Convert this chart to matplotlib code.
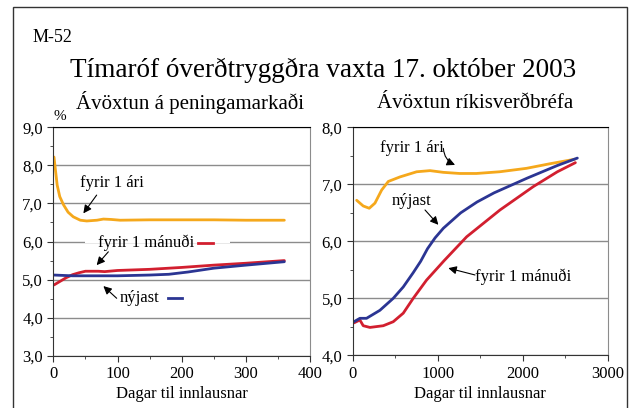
from matplotlib import pyplot as plt
from matplotlib import ticker
from matplotlib.patches import Rectangle

# Peningamarkaður (dagar til innlausnar, ávöxtun %)
mm_ari_x = [1, 3, 6, 10, 16, 23, 31, 42, 52, 60, 68, 78, 90, 104, 150, 194, 250, 300, 360]
mm_ari_y = [8.22, 7.92, 7.48, 7.18, 6.96, 6.77, 6.65, 6.56, 6.54, 6.55, 6.56, 6.59, 6.58, 6.56, 6.57, 6.57, 6.57, 6.56, 6.56]
mm_man_x = [1, 10, 20, 30, 40, 50, 70, 80, 100, 150, 200, 250, 300, 360]
mm_man_y = [4.86, 4.95, 5.05, 5.13, 5.18, 5.22, 5.22, 5.21, 5.24, 5.27, 5.32, 5.38, 5.43, 5.5]
mm_nyj_x = [1, 30, 60, 100, 150, 180, 210, 250, 300, 360]
mm_nyj_y = [5.12, 5.1, 5.1, 5.1, 5.12, 5.14, 5.2, 5.3, 5.38, 5.47]

# Ríkisverðbréf
rv_ari_x = [47, 124, 195, 262, 341, 419, 557, 753, 910, 1065, 1259, 1455, 1729, 2043, 2318, 2612]
rv_ari_y = [6.72, 6.62, 6.58, 6.67, 6.90, 7.05, 7.13, 7.22, 7.24, 7.21, 7.19, 7.19, 7.22, 7.28, 7.36, 7.44]
rv_nyj_x = [15, 85, 163, 320, 477, 595, 712, 800, 880, 969, 1067, 1271, 1463, 1663, 2055, 2408, 2643]
rv_nyj_y = [4.59, 4.65, 4.65, 4.79, 5.0, 5.2, 5.45, 5.65, 5.87, 6.06, 6.23, 6.5, 6.69, 6.85, 7.11, 7.33, 7.46]
rv_man_x = [15, 85, 124, 203, 360, 477, 595, 712, 869, 1075, 1341, 1733, 2125, 2408, 2620]
rv_man_y = [4.57, 4.62, 4.52, 4.49, 4.52, 4.59, 4.74, 5.0, 5.32, 5.66, 6.08, 6.55, 6.96, 7.22, 7.38]

YELLOW = "#f5a81c"
RED = "#d21f2f"
BLUE = "#2b3593"
GRID = "#8c8c8c"

plt.rcParams['font.family'] = ['Liberation Serif', 'DejaVu Serif']

fig = plt.figure(figsize=(6.35, 4.08), dpi=100)

# ramminn utan um myndina
fig.patches.append(Rectangle((13 / 635, -0.1), 614 / 635, 1.1 - 7 / 408, transform=fig.transFigure,
                             fill=False, edgecolor="#333333", linewidth=1.0))

fig.text(33 / 635, 1 - 37 / 408, "M-52", fontsize=13, va="center", ha="left")
fig.text(323 / 635, 1 - 70 / 408, "Tímaróf óverðtryggðra vaxta 17. október 2003", fontsize=19.5, va="center", ha="center")
fig.text(190 / 635, 1 - 103 / 408, "Ávöxtun á peningamarkaði", fontsize=15, va="center", ha="center")
fig.text(475 / 635, 1 - 103 / 408, "Ávöxtun ríkisverðbréfa", fontsize=15, va="center", ha="center")
fig.text(60 / 635, 1 - 116 / 408, "%", fontsize=11, va="center", ha="center")

ax1 = fig.add_axes([0.0840, 0.128, 0.4042, 0.560])
ax2 = fig.add_axes([0.5554, 0.129, 0.4016, 0.559])


def style_axis(ax, xmax, xmajor, xminor, ymin, ymax):
    ax.set_xlim(0, xmax)
    ax.set_ylim(ymin, ymax)
    ax.xaxis.set_major_locator(ticker.MultipleLocator(xmajor))
    ax.xaxis.set_minor_locator(ticker.MultipleLocator(xminor))
    ax.yaxis.set_major_locator(ticker.MultipleLocator(1))
    ax.yaxis.set_minor_locator(ticker.MultipleLocator(0.5))
    ax.yaxis.set_major_formatter(ticker.FuncFormatter(lambda v, p: f"{v:.1f}".replace(".", ",")))
    ax.xaxis.set_major_formatter(ticker.FuncFormatter(lambda v, p: f"{v:.0f}"))
    ax.tick_params(which="both", direction="out", labelsize=12, color="#333333")
    ax.tick_params(which="major", length=4)
    ax.tick_params(which="minor", length=2.5)
    ax.grid(axis="y", which="major", color=GRID, linewidth=1.0)
    ax.spines["right"].set_color(GRID)
    ax.spines["top"].set_color("black")
    ax.spines["left"].set_color("#333333")
    ax.spines["bottom"].set_color("#333333")
    ax.set_xlabel("Dagar til innlausnar", fontsize=12, labelpad=3)
    ax.set_axisbelow(True)


style_axis(ax1, 400, 100, 50, 3, 9)
style_axis(ax2, 3000, 1000, 500, 4, 8)

lw = 2.0
line_kw = dict(linewidth=lw, solid_joinstyle="round", solid_capstyle="round")
ax1.plot(mm_ari_x, mm_ari_y, color=YELLOW, **line_kw)
ax1.plot(mm_man_x, mm_man_y, color=RED, **line_kw)
ax1.plot(mm_nyj_x, mm_nyj_y, color=BLUE, **line_kw)

ax2.plot(rv_ari_x, rv_ari_y, color=YELLOW, **line_kw)
ax2.plot(rv_man_x, rv_man_y, color=RED, **line_kw)
ax2.plot(rv_nyj_x, rv_nyj_y, color=BLUE, **line_kw)

arrow = dict(arrowstyle="-|>", color="black", linewidth=0.8, mutation_scale=12, shrinkA=0, shrinkB=0)
fs = 12

# skýringar vinstra megin
ax1.text(91, 7.53, "fyrir 1 ári", fontsize=fs, ha="center", va="center")
ax1.annotate("", xy=(46.8, 6.74), xytext=(67.5, 7.22), arrowprops=arrow)
ax1.text(145, 5.97, "fyrir 1 mánuði", fontsize=fs, ha="center", va="center")
ax1.fill_between([49, 275], 5.95, 6.05, color="white", zorder=1.5, linewidth=0)
ax1.plot([226, 249], [5.97, 5.97], color=RED, linewidth=lw)
ax1.annotate("", xy=(67.5, 5.38), xytext=(85.7, 5.73), arrowprops=arrow)
ax1.text(135, 4.53, "nýjast", fontsize=fs, ha="center", va="center")
ax1.plot([179, 201], [4.53, 4.53], color=BLUE, linewidth=lw)
ax1.annotate("", xy=(78, 4.83), xytext=(98.7, 4.51), arrowprops=arrow)

# skýringar hægra megin
ax2.text(694, 7.63, "fyrir 1 ári", fontsize=fs, ha="center", va="center")
ax2.annotate("", xy=(1204, 7.34), xytext=(1067, 7.63),
             arrowprops=dict(arrow, connectionstyle="arc3,rad=0.3"))
ax2.text(694, 6.70, "nýjast", fontsize=fs, ha="center", va="center")
ax2.annotate("", xy=(1008, 6.29), xytext=(851, 6.55), arrowprops=arrow)
ax2.text(2008, 5.38, "fyrir 1 mánuði", fontsize=fs, ha="center", va="center")
ax2.annotate("", xy=(1125, 5.53), xytext=(1439, 5.41), arrowprops=arrow)

fig.savefig("out.png", dpi=100)
